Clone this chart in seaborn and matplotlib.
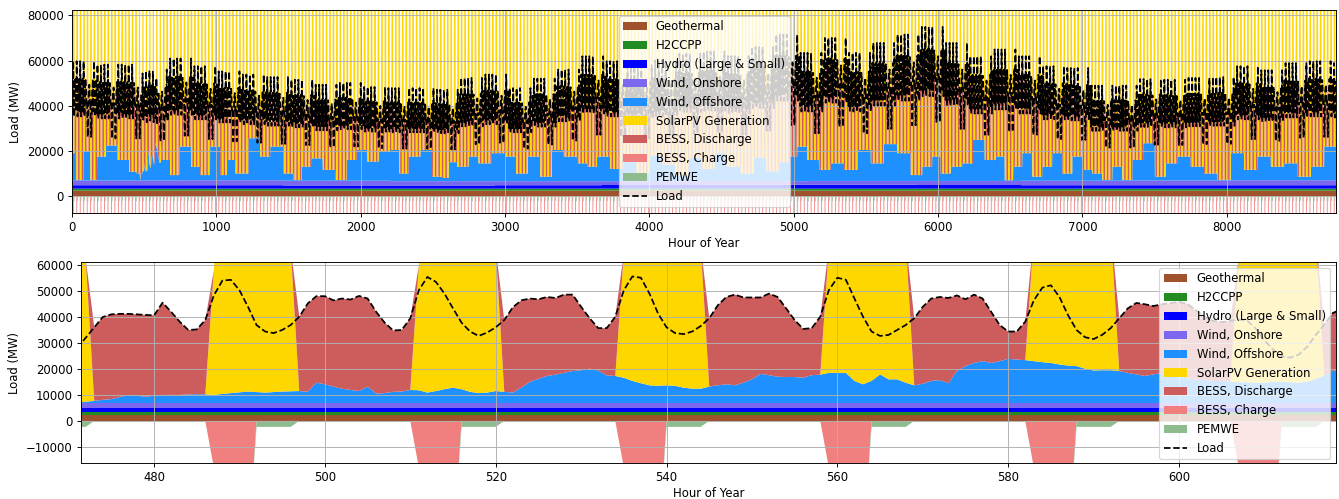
import numpy as np
import matplotlib
matplotlib.use("Agg")
import matplotlib.pyplot as plt
import seaborn as sns

# values (MW)
weekday_load_profile = [48100, 47100, 42000, 37800, 34800, 35000, 39500, 50300,
                        55400, 53500, 49000, 43300, 37800, 34400, 32700, 34000,
                        36000, 38800, 43700, 46400, 47100, 46800, 47700, 47300]
weekend_load_profile = [45800, 45000, 42500, 40000, 38500, 38000, 38500, 39000,
                        38500, 35500, 31000, 27500, 25000, 24300, 25500, 28500,
                        33000, 37000, 41500, 43000, 44000, 44500, 44500, 44500]
weekly_peak_load = [59700, 58200, 58200, 56000, 60900, 57500, 55200, 53800, 52700,
                    51500, 49300, 50100, 48300, 47800, 47800, 47100, 52300, 53800,
                    47800, 52000, 56000, 61900, 59700, 58000, 60000, 63000, 64000,
                    62000, 66000, 71500, 63400, 70000, 63400, 67800, 71500, 74900,
                    67800, 61900, 64900, 61900, 57500, 56700, 48900, 48900, 51800,
                    51500, 52300, 52700, 57500, 55700, 58900, 59700, 58900]
# solar in the zoomed January days, and the wider day seen over the year
solar_profile_zoom = [0, 0, 0, 0, 0, 0, 0, 48000, 110000, 140000, 160000, 170000,
                      170000, 165000, 150000, 125000, 55000, 0, 0, 0, 0, 0, 0, 0]
solar_profile_year = [0, 0, 0, 0, 0, 0, 70000, 120000, 150000, 170000, 180000, 185000,
                      185000, 180000, 170000, 150000, 120000, 70000, 0, 0, 0, 0, 0, 0]
charge_profile = [0, 0, 0, 0, 0, 0, 0, -18000, -30000, -40000, -48000, -50000,
                  0, 0, 0, 0, 0, 0, 0, 0, 0, 0, 0, 0]
pemwe_profile = [0, 0, 0, 0, 0, 0, 0, 0, 0, 0, 0, 0,
                 -2300, -2300, -2300, -2300, -2300, 0, 0, 0, 0, 0, 0, 0]

# top of the offshore-wind layer, read at these hours of the year
wind_top_hours = [0, 55, 102, 152, 194, 275, 356, 437, 460, 541, 587, 656, 702,
                  784, 865, 910, 1003, 1049, 1095, 1165, 1280, 1327, 1419, 1511,
                  1557, 1627, 1685, 1789, 1858, 1950, 1997, 2089, 2159, 2240, 2297,
                  2367, 2459, 2529, 2598, 2621, 2713, 2782, 2851, 2967, 3036, 3117,
                  3198, 3290, 3360, 3452, 3545, 3591, 3683, 3776, 3866, 3956, 4046,
                  4136, 4226, 4316, 4406, 4496, 4586, 4676, 4766, 4856, 4946, 5000,
                  5049, 5141, 5210, 5303, 5395, 5488, 5580, 5671, 5764, 5856, 5925,
                  5994, 6041, 6133, 6202, 6283, 6364, 6433, 6491, 6549, 6618, 6688,
                  6757, 6826, 6896, 6965, 7034, 7104, 7173, 7242, 7312, 7381, 7462,
                  7543, 7612, 7704, 7797, 7889, 7982, 8074, 8167, 8259, 8352, 8444,
                  8537, 8629, 8722]
wind_top_mw = [19000, 7100, 19700, 7100, 17500, 22400, 16000, 10800, 10000, 14500,
               21900, 16000, 9300, 21900, 13000, 9300, 21900, 9300, 16000, 10000,
               25600, 17500, 21900, 10000, 6400, 13000, 16700, 11600, 6400, 16000,
               20400, 15300, 19700, 20400, 10000, 17500, 20400, 8600, 8000, 15000,
               13000, 17500, 14500, 19000, 17500, 10000, 17500, 8600, 20400, 17500,
               14500, 13000, 17500, 12000, 16000, 10000, 18000, 14000, 9000, 17000,
               12000, 19000, 13000, 10000, 17000, 11000, 15000, 17500, 21900, 16000,
               11600, 14500, 11600, 20400, 14500, 23000, 19000, 9300, 13000, 17500,
               10000, 13000, 14500, 24900, 16000, 17500, 6400, 13000, 19000, 8600,
               13000, 19000, 10000, 17500, 11600, 10000, 7100, 13000, 6400, 16000,
               23400, 8600, 14500, 17500, 13000, 10000, 7100, 19000, 11600, 17500,
               13000, 14500, 8600, 13000, 21900]
hydro_month = [1500, 1500, 1400, 1400, 1500, 1600, 1700, 1700, 1600, 1500, 1500, 1500]
onshore_month = [2100, 2200, 2100, 1900, 1800, 1700, 1600, 1700, 1800, 2000, 2100, 2200]
geothermal_mw = 2400
h2ccpp_mw = 900

# zoomed window, hourly, starting at hour 471
zoom_start = 471
zoom_load = [28000, 32000, 36000, 40000, 41000, 41200, 41200, 41000, 40800,
             40600, 45500, 42000, 38200, 35000, 35200, 38800, 48300, 54000, 54300, 50300,
             43900, 36900, 34400, 33800, 35000, 36900, 40100, 45200, 48000, 48000,
             46400, 47100, 46700,
             48100, 47100, 42000, 37800, 34800, 35000, 39500, 50300, 55400, 53500,
             49000, 43300, 37800, 34400, 32700, 34000, 36000, 38800, 43700, 46400,
             47100, 46800, 47700, 47300,
             48600, 48600, 43900, 39500, 35700, 35700, 40100, 50300, 55600, 55100,
             49000, 41400, 36000, 33800, 33400, 34400, 36500, 39500, 44500, 47700,
             48600, 47500, 47500, 47500,
             49000, 47700, 43300, 38800, 35400, 35700, 40100, 50300, 55100, 54300,
             47100, 40100, 34400, 32700, 33100, 35000, 36900, 39500, 43900, 47100,
             47700, 47300, 48300, 46800,
             48600, 47100, 42000, 36900, 34400, 34400, 38200, 46400, 51300, 52200,
             47700, 40700, 35000, 32200, 31500, 33100, 35700, 39500, 43300, 45400,
             44900, 44200, 44900, 45400,
             45800, 45000, 42500, 40000, 38500, 38000, 38500, 39000, 38500, 35500,
             31000, 27500, 25000, 24300, 25500, 28500, 33000, 37000, 41500, 43000]
zoom_offshore = [200, 500, 800, 1200, 1500, 2300, 3100, 2800, 2400,
                 2800, 3100, 3100, 3100, 3300, 3400, 3300, 3100, 3500, 3800, 4100,
                 4400, 4200, 4000, 4200, 4400, 4500, 4600, 4300, 7800, 7200,
                 6300, 5500, 5000,
                 4600, 6300, 3600, 3800, 4300, 4400, 5000, 4900, 4000, 4600,
                 5300, 5900, 5300, 4300, 3800, 4000, 4600, 4300, 4000, 5900,
                 8100, 9300, 10400, 10900,
                 11600, 12300, 12600, 13200, 12500, 10600, 10400, 9700, 8500, 7600,
                 6800, 6600, 6800, 6600, 5900, 5500, 5500, 6300, 6800, 7200,
                 6800, 7800, 9100, 11200,
                 10700, 10100, 10000, 10000, 9700, 10700, 10900, 11600, 11600, 11600,
                 8500, 7200, 8500, 11000, 9100, 9100, 7800, 6800, 7400, 8500,
                 8800, 7600, 12300, 14200,
                 15400, 16100, 15400, 16100, 17000, 16700, 16500, 16100, 15700, 15400,
                 14800, 14400, 14200, 13200, 12500, 12600, 12600, 12300, 11600, 11000,
                 10400, 11000, 11500, 11000,
                 10000, 9500, 9000, 8800, 8500, 8500, 8200, 8000, 8000, 7800,
                 7800, 8200, 8200, 8000, 7800, 8200, 9300, 10600, 12300, 12900]

gen_labels = ["Geothermal", "H2CCPP", "Hydro (Large & Small)", "Wind, Onshore",
              "Wind, Offshore", "SolarPV Generation", "BESS, Discharge"]
gen_colors = ["sienna", "forestgreen", "blue", "mediumslateblue", "dodgerblue",
              "gold", "indianred"]
sink_labels = ["BESS, Charge", "PEMWE"]
sink_colors = ["lightcoral", "darkseagreen"]

# build the hourly year
hours = np.arange(8760)
day = hours // 24
hod = hours % 24
week = hours // 168
weekend = ((day + 1) % 7) >= 5  # hour 0 is a Tuesday
month = np.minimum(day * 12 // 365, 11)

wd = np.array(weekday_load_profile, dtype=float)
we = np.array(weekend_load_profile, dtype=float)
load = np.where(weekend, we[hod], wd[hod]) * np.array(weekly_peak_load)[week] / wd.max()

geo = np.full(len(hours), float(geothermal_mw))
h2 = np.full(len(hours), float(h2ccpp_mw))
hydro = np.array(hydro_month, dtype=float)[month]
onshore = np.array(onshore_month, dtype=float)[month]

# each hour takes the nearest reading of the offshore layer top
wt_h = np.array(wind_top_hours)
mids = (wt_h[1:] + wt_h[:-1]) / 2
nearest = np.searchsorted(mids, hours)
offshore = np.clip(np.array(wind_top_mw, dtype=float)[nearest] - (geo + h2 + hydro + onshore), 300, None)
solar = np.array(solar_profile_year, dtype=float)[hod]

zs = slice(zoom_start, zoom_start + len(zoom_load))
load[zs] = zoom_load
offshore[zs] = zoom_offshore
# whole days around the zoom window use the January solar shape
jan = slice(19 * 24, 26 * 24)
solar[jan] = np.array(solar_profile_zoom, dtype=float)[hod[jan]]

base = geo + h2 + hydro + onshore + offshore
discharge = np.clip(load - base - solar, 0, None)
charge = np.array(charge_profile, dtype=float)[hod]
pemwe = np.array(pemwe_profile, dtype=float)[hod]

gen = np.vstack([geo, h2, hydro, onshore, offshore, solar, discharge])
sink = np.vstack([charge, pemwe])

fig, (ax1, ax2) = plt.subplots(2, 1, figsize=(16, 5.962))
ax1.set_position([72 / 1339, 286 / 499, 1264 / 1339, 203 / 499])
ax2.set_position([81 / 1339, 36 / 499, 1255 / 1339, 201 / 499])

for ax, sel in ((ax1, slice(None)), (ax2, zs)):
    x = hours[sel]
    ax.stackplot(x, gen[:, sel], labels=gen_labels, colors=gen_colors)
    ax.stackplot(x, sink[:, sel], labels=sink_labels, colors=sink_colors)
    sns.lineplot(x=x, y=load[sel], ax=ax, color="black", linestyle="--", label="Load")
    ax.set_xlabel("Hour of Year", labelpad=2.5)
    ax.set_ylabel("Load (MW)")
    ax.grid(True)

ax1.set_xlim(0, 8759)
ax1.set_ylim(-0.1 * load.max(), 1.1 * load.max())
ax1.legend(loc="upper center")

ax2.set_xlim(471.45, 618.4)
ax2.set_ylim(-16200, 1.1 * load[zs].max())
ax2.legend(loc="upper right")

plt.savefig("out.png", dpi=83.7)
